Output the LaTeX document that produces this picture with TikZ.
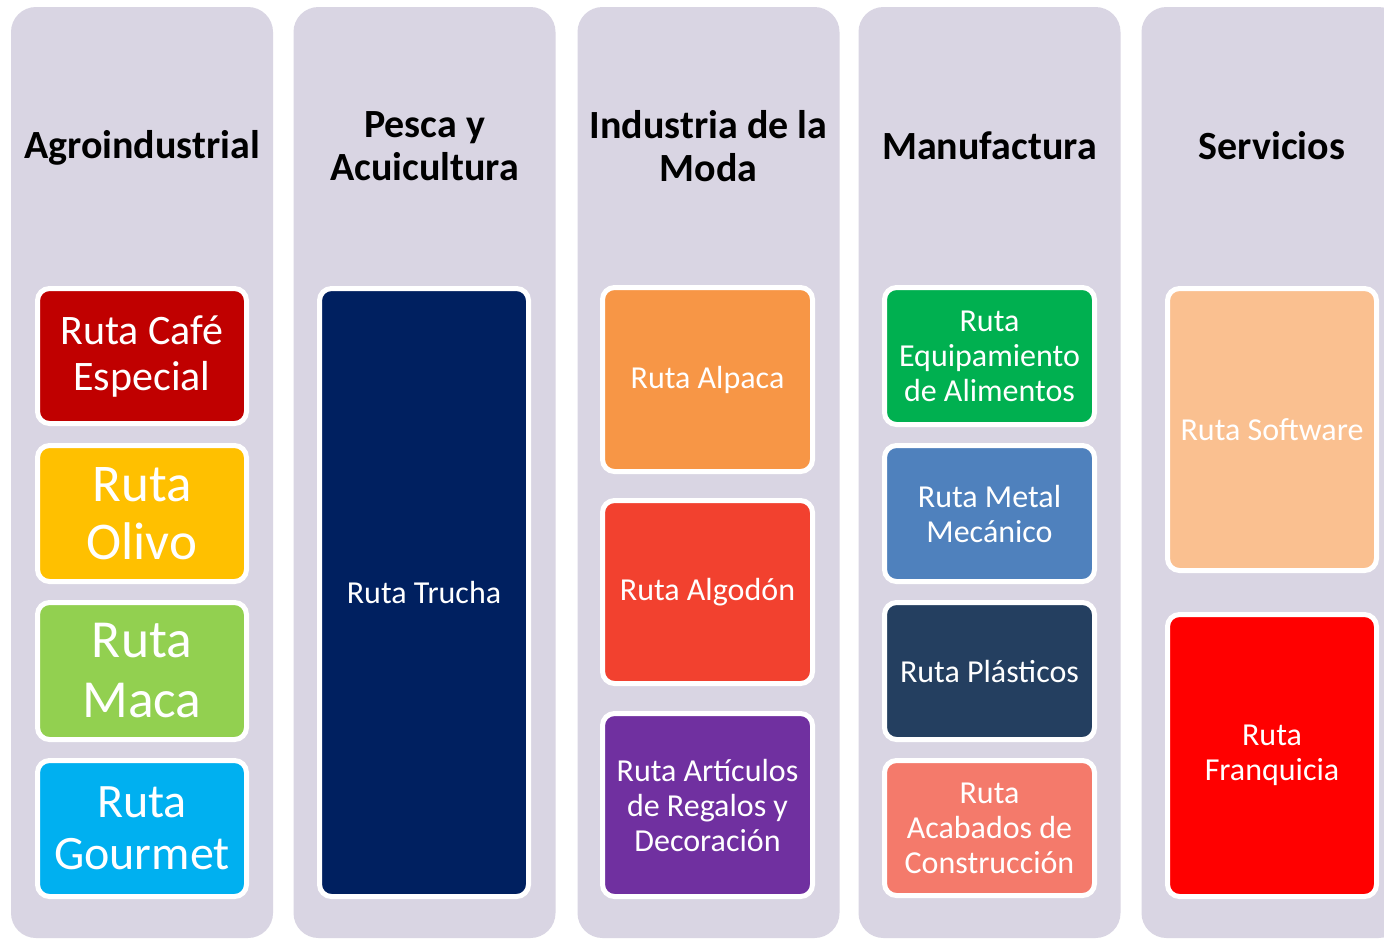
\documentclass[tikz,border=0pt]{standalone}
\usepackage{fontspec}
\setmainfont{Carlito}
\definecolor{colbg}{HTML}{D9D5E3}
\definecolor{cCafe}{HTML}{C00000}
\definecolor{cOlivo}{HTML}{FFC000}
\definecolor{cMaca}{HTML}{92D050}
\definecolor{cGourmet}{HTML}{00B0F0}
\definecolor{cTrucha}{HTML}{002060}
\definecolor{cAlpaca}{HTML}{F79646}
\definecolor{cAlgodon}{HTML}{F2412F}
\definecolor{cArticulos}{HTML}{7030A0}
\definecolor{cEquip}{HTML}{00B050}
\definecolor{cMetal}{HTML}{4F81BD}
\definecolor{cPlast}{HTML}{243F60}
\definecolor{cAcab}{HTML}{F47A6B}
\definecolor{cSoft}{HTML}{FAC090}
\definecolor{cFranq}{HTML}{FF0000}
\tikzset{
  colbox/.style={rectangle, fill=colbg, draw=none, rounded corners=25pt,
    minimum width=262pt, minimum height=931pt, inner sep=0pt},
  coltitle/.style={align=center, text=black, inner sep=0pt,
    font=\fontsize{40}{43}\selectfont\bfseries},
  rbox/.style={rectangle, draw=white, line width=5pt, rounded corners=12pt,
    text=white, align=center, inner sep=0pt},
  fsmall/.style={font=\fontsize{32}{35}\selectfont},
}
\begin{document}
\begin{tikzpicture}[x=1pt,y=-1pt]
\path[use as bounding box] (0,0) rectangle (1384,940);
\clip (0,0) rectangle (1384,940);
\fill[white] (0,0) rectangle (1384,940);
% columns
\node[colbox] (col1) at (142,472.5) {};
\node[colbox] (col2) at (424.5,472.5) {};
\node[colbox] (col3) at (708.5,472.5) {};
\node[colbox] (col4) at (989.5,472.5) {};
\node[colbox] (col5) at (1272.5,472.5) {};
% titles
\node[coltitle] (t1) at (142,148) {Agroindustrial};
\node[coltitle] (t2) at (424.5,146) {Pesca y\\Acuicultura};
\node[coltitle] (t3) at (708.5,146) {Industria de la\\Moda};
\node[coltitle] (t4) at (989.5,146) {Manufactura};
\node[coltitle] (t5) at (1272,146) {Servicios};
% column 1
\node[rbox, fill=cCafe, minimum width=209pt, minimum height=135pt,
  font=\fontsize{42}{46}\selectfont] (cafe) at (142,356) {Ruta Café\\Especial};
\node[rbox, fill=cOlivo, minimum width=209pt, minimum height=136pt,
  font=\fontsize{53}{58}\selectfont] (olivo) at (142,513.5) {Ruta\\Olivo};
\node[rbox, fill=cMaca, minimum width=209pt, minimum height=137pt,
  font=\fontsize{53.5}{60}\selectfont] (maca) at (142,671) {Ruta\\Maca};
\node[rbox, fill=cGourmet, minimum width=209pt, minimum height=136pt,
  font=\fontsize{48}{52}\selectfont] (gourmet) at (142,828.5) {Ruta\\Gourmet};
% column 2
\node[rbox, fill=cTrucha, minimum width=209pt, minimum height=608pt, fsmall]
  (trucha) at (424,592.5) {Ruta Trucha};
% column 3
\node[rbox, fill=cAlpaca, minimum width=210pt, minimum height=184pt, fsmall]
  (alpaca) at (707.5,379.5) {Ruta Alpaca};
\node[rbox, fill=cAlgodon, minimum width=210pt, minimum height=183pt, fsmall]
  (algodon) at (707.5,592) {Ruta Algodón};
\node[rbox, fill=cArticulos, minimum width=210pt, minimum height=183pt, fsmall]
  (articulos) at (707.5,805) {Ruta Artículos\\de Regalos y\\Decoración};
% column 4
\node[rbox, fill=cEquip, minimum width=210pt, minimum height=137pt, fsmall]
  (equip) at (989.5,356) {Ruta\\Equipamiento\\de Alimentos};
\node[rbox, fill=cMetal, minimum width=210pt, minimum height=136pt, fsmall]
  (metal) at (989.5,513.5) {Ruta Metal\\Mecánico};
\node[rbox, fill=cPlast, minimum width=210pt, minimum height=137pt, fsmall]
  (plast) at (989.5,671) {Ruta Plásticos};
\node[rbox, fill=cAcab, minimum width=210pt, minimum height=135pt, fsmall]
  (acab) at (989.5,828) {Ruta\\Acabados de\\Construcción};
% column 5
\node[rbox, fill=cSoft, minimum width=209pt, minimum height=282pt, fsmall]
  (soft) at (1272,429.5) {Ruta Software};
\node[rbox, fill=cFranq, minimum width=209pt, minimum height=282pt, fsmall]
  (franq) at (1272,755.5) {Ruta\\Franquicia};
\end{tikzpicture}
\end{document}
